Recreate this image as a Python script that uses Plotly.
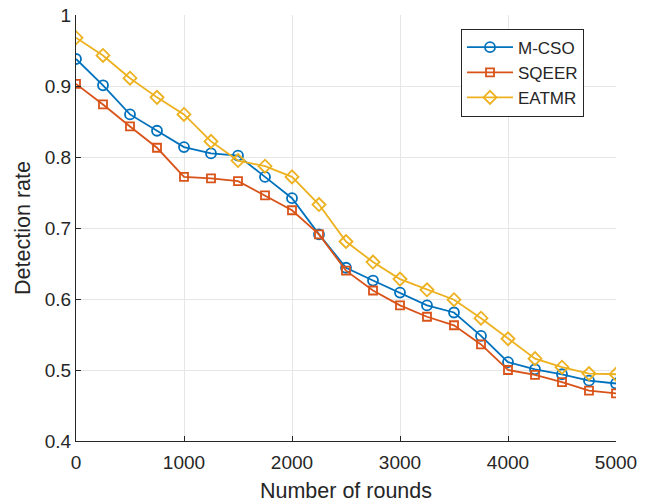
import plotly.graph_objects as go

rounds = [0, 250, 500, 750, 1000, 1250, 1500, 1750, 2000, 2250, 2500,
          2750, 3000, 3250, 3500, 3750, 4000, 4250, 4500, 4750, 5000]
mcso = [0.938, 0.901, 0.860, 0.837, 0.814, 0.805, 0.802, 0.772, 0.742, 0.691, 0.644,
        0.626, 0.609, 0.591, 0.581, 0.548, 0.511, 0.501, 0.494, 0.485, 0.481]
sqeer = [0.903, 0.874, 0.843, 0.813, 0.772, 0.770, 0.766, 0.746, 0.725, 0.691, 0.640,
         0.612, 0.591, 0.575, 0.563, 0.536, 0.500, 0.493, 0.483, 0.471, 0.467]
eatmr = [0.968, 0.943, 0.911, 0.884, 0.860, 0.822, 0.795, 0.787, 0.772, 0.733, 0.681,
         0.652, 0.628, 0.613, 0.599, 0.573, 0.544, 0.516, 0.504, 0.495, 0.494]

x_ticks = [0, 1000, 2000, 3000, 4000, 5000]
y_ticks = [0.4, 0.5, 0.6, 0.7, 0.8, 0.9, 1.0]
y_labels = ["0.4", "0.5", "0.6", "0.7", "0.8", "0.9", "1"]

series = [
    ("M-CSO", mcso, "#0072BD", "circle-open"),
    ("SQEER", sqeer, "#D95319", "square-open"),
    ("EATMR", eatmr, "#EDB120", "diamond-open"),
]

fig = go.Figure()
for name, vals, col, sym in series:
    fig.add_trace(go.Scatter(
        x=rounds, y=vals, name=name, mode="lines+markers",
        line=dict(color=col, width=1.8),
        marker=dict(symbol=sym, size=10 if sym != "square-open" else 8,
                    color=col, line=dict(color=col, width=1.8)),
    ))

fnt = "Liberation Sans, Arial, sans-serif"
fig.update_layout(
    width=648, height=503,
    margin=dict(l=76, r=32, t=15, b=62, autoexpand=False),
    paper_bgcolor="white", plot_bgcolor="white",
    font=dict(family=fnt, size=19, color="#262626"),
    showlegend=True,
    legend=dict(x=0.713, y=0.968, xanchor="left", yanchor="top",
                bgcolor="white", bordercolor="#262626", borderwidth=1,
                font=dict(size=17, color="#262626"),
                tracegroupgap=0, itemwidth=46),
)
fig.update_xaxes(
    range=[0, 5000], tickvals=x_ticks, ticks="inside", ticklen=5,
    tickcolor="#262626", showline=True, linecolor="#262626", linewidth=1,
    showgrid=True, gridcolor="#e6e6e6", gridwidth=1, zeroline=False,
    automargin=False, ticklabelstandoff=4, ticklabeloverflow="allow",
    title=dict(text="Number of rounds", font=dict(size=21.5), standoff=15),
    tickfont=dict(size=19),
)
fig.update_yaxes(
    range=[0.4, 1.0], tickvals=y_ticks, ticktext=y_labels, ticks="inside",
    ticklen=5, tickcolor="#262626", showline=True, linecolor="#262626",
    linewidth=1, showgrid=True, gridcolor="#e6e6e6", gridwidth=1,
    zeroline=False, automargin=False, ticklabeloverflow="allow",
    title=dict(text="Detection rate", font=dict(size=21.5), standoff=8),
    tickfont=dict(size=19),
)

# remove the default page margin so the figure sits at the window origin
fig.write_html("out.html",
               config={"displayModeBar": False},
               post_script="document.body.style.margin='0';document.body.style.overflow='hidden';")
